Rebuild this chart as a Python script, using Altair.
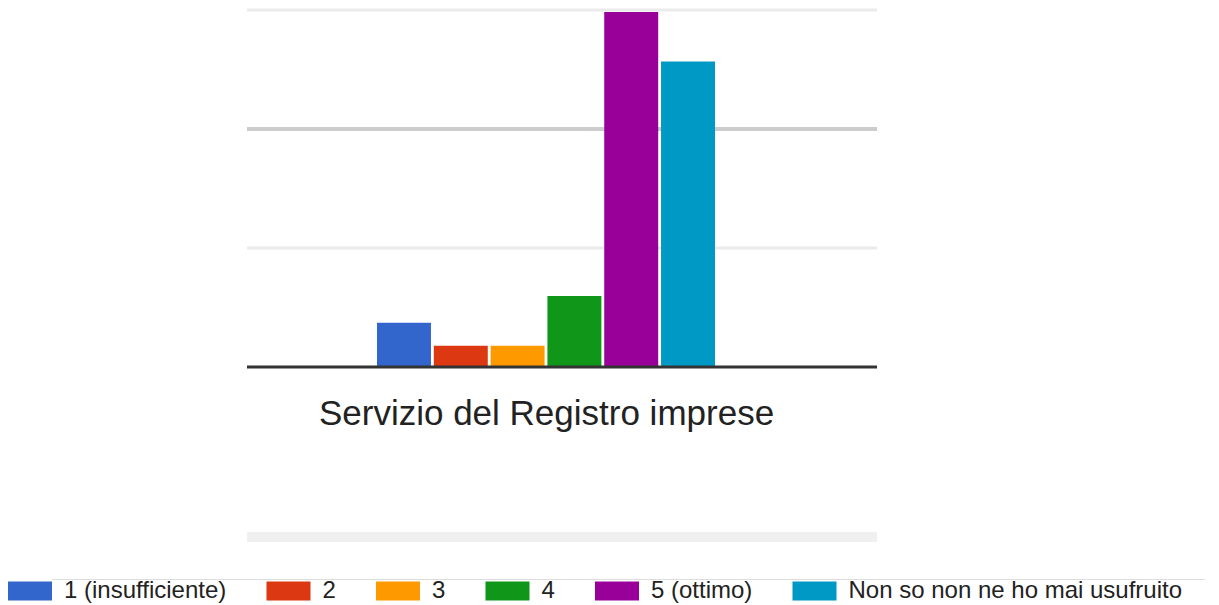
import altair as alt
import pandas as pd

categories = ["Servizio del Registro imprese"]
series = ["1 (insufficiente)", "2", "3", "4", "5 (ottimo)", "Non so non ne ho mai usufruito"]
values = [4.45, 2.15, 2.15, 7.15, 35.8, 30.8]
colors = ["#3366cc", "#dc3912", "#ff9900", "#109618", "#990099", "#0099c6"]
grid_values = [12, 24, 36]
y_max = 36

W, H = 630, 357

df = pd.DataFrame({"category": categories[0], "series": series, "value": values})
yscale = alt.Scale(domain=[0, y_max], nice=False, zero=True)

grid_styles = [("#ebebeb", 3), ("#cccccc", 4), ("#ebebeb", 3)]
layers = []
for v, (c, w) in zip(grid_values, grid_styles):
    layers.append(
        alt.Chart(pd.DataFrame({"v": [v]}))
        .mark_rule(color=c, strokeWidth=w)
        .encode(y=alt.Y("v:Q", scale=yscale, axis=None))
    )

band = alt.Chart(pd.DataFrame({"a": [0]})).mark_rect(color="#f0f0f0").encode(
    x=alt.value(0), x2=alt.value(W), y=alt.value(522), y2=alt.value(532)
)
sep = alt.Chart(pd.DataFrame({"a": [0]})).mark_rule(color="#dddddd", strokeWidth=1).encode(
    x=alt.value(-195), x2=alt.value(958), y=alt.value(569.5), y2=alt.value(569.5)
)

bars = alt.Chart(df).mark_bar().encode(
    x=alt.X(
        "series:N",
        sort=series,
        scale=alt.Scale(range=[130, 468], paddingInner=0.05, paddingOuter=0),
        axis=alt.Axis(
            labels=False, ticks=False, domain=False, grid=False,
            title=categories[0], titleX=299, titleY=57, titleFontSize=35,
            titleFontWeight="normal", titleColor="#222222", titleFont="Liberation Sans",
            titleBaseline="alphabetic", titleAlign="center",
        ),
    ),
    y=alt.Y("value:Q", scale=yscale, axis=None),
    color=alt.Color(
        "series:N",
        sort=series,
        scale=alt.Scale(domain=series, range=colors),
        legend=alt.Legend(
            orient="none", legendX=-239, legendY=559, direction="horizontal", title=None,
            symbolType="M-1,-0.43H1V0.43H-1Z", symbolSize=1936, symbolStrokeWidth=0,
            symbolOpacity=1, labelFontSize=24, labelFont="Liberation Sans",
            labelColor="#222222", labelOffset=12, columnPadding=39.5, padding=0, labelLimit=0,
        ),
    ),
)

baseline = alt.Chart(pd.DataFrame({"v": [0]})).mark_rule(color="#333333", strokeWidth=3).encode(
    y=alt.Y("v:Q", scale=yscale, axis=None)
)

chart = alt.layer(band, sep, *layers, bars, baseline).properties(
    width=W, height=H, padding=0
).configure_view(stroke=None)

chart.save("out.html", embed_options={"renderer": "svg", "actions": False})
